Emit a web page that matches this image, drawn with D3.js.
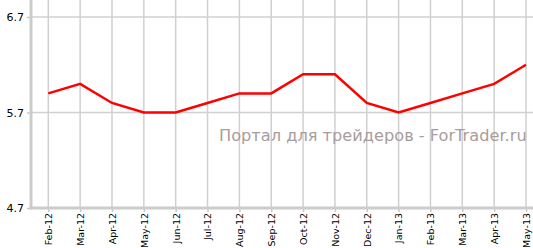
<!DOCTYPE html>
<html><head><meta charset="utf-8">
<script src="https://cdn.jsdelivr.net/npm/d3@7"></script>
<style>html,body{margin:0;padding:0;background:#fff;overflow:hidden}</style>
</head><body><svg id="c" width="533" height="248"></svg>
<script>
const categories = ["Feb-12","Mar-12","Apr-12","May-12","Jun-12","Jul-12","Aug-12","Sep-12","Oct-12","Nov-12","Dec-12","Jan-13","Feb-13","Mar-13","Apr-13","May-13"];
const values = [5.9,6.0,5.8,5.7,5.7,5.8,5.9,5.9,6.1,6.1,5.8,5.7,5.8,5.9,6.0,6.2];
const yTicks = [4.7,5.7,6.7];
const watermark = "Портал для трейдеров - ForTrader.ru";

const svg = d3.select("#c");
const x = d3.scalePoint().domain(categories).range([48.3, 526]);
const y = d3.scaleLinear().domain([4.7,6.7]).range([208,17]);
const axisX = 31, plotRight = 533;

// gridlines
svg.append("g").selectAll("line.h").data(yTicks).join("line")
  .attr("x1", axisX).attr("x2", plotRight).attr("y1", d=>y(d)).attr("y2", d=>y(d))
  .attr("stroke","#d0d0d0").attr("stroke-width",1.5);
svg.append("g").selectAll("line.v").data(categories).join("line")
  .attr("x1", d=>x(d)).attr("x2", d=>x(d)).attr("y1", 0).attr("y2", 208)
  .attr("stroke","#d0d0d0").attr("stroke-width",1.5);

// watermark
svg.append("text").attr("x", 219).attr("y", 140.5)
  .attr("font-family","DejaVu Sans").attr("font-size",16.2).attr("fill","#a99c9c")
  .text(watermark);

// y axis
const ya = svg.append("g").attr("transform",`translate(${axisX},0)`)
  .call(d3.axisLeft(y).tickValues(yTicks).tickSize(4).tickPadding(3).tickFormat(d3.format(".1f")));
ya.select(".domain").remove();
ya.selectAll(".tick line").attr("stroke","#c8c8c8").attr("stroke-width",1.5);
ya.selectAll("text").attr("font-family","Verdana, DejaVu Sans").attr("font-size",11).attr("fill","#000");

// x axis
const xa = svg.append("g").attr("transform",`translate(0,208)`)
  .call(d3.axisBottom(x).tickSize(4).tickPadding(0));
xa.select(".domain").remove();
xa.selectAll(".tick line").attr("stroke","#c8c8c8").attr("stroke-width",1.5);
xa.selectAll("text").attr("font-family","DejaVu Sans").attr("font-size",9.5).attr("fill","#000")
  .attr("text-anchor","end").attr("dy","0.35em")
  .attr("transform","translate(0,5) rotate(-90)").attr("x",0).attr("y",0);

// axis lines
svg.append("line").attr("x1",axisX).attr("x2",axisX).attr("y1",0).attr("y2",209.5)
  .attr("stroke","#cccccc").attr("stroke-width",3);
svg.append("line").attr("x1",axisX-1.5).attr("x2",plotRight).attr("y1",208).attr("y2",208)
  .attr("stroke","#cccccc").attr("stroke-width",3);

// line
svg.append("path").datum(values.map((v,i)=>[categories[i],v]))
  .attr("fill","none").attr("stroke","#ff0000").attr("stroke-width",2.5)
  .attr("d", d3.line().x(d=>x(d[0])).y(d=>y(d[1])));
</script></body></html>
